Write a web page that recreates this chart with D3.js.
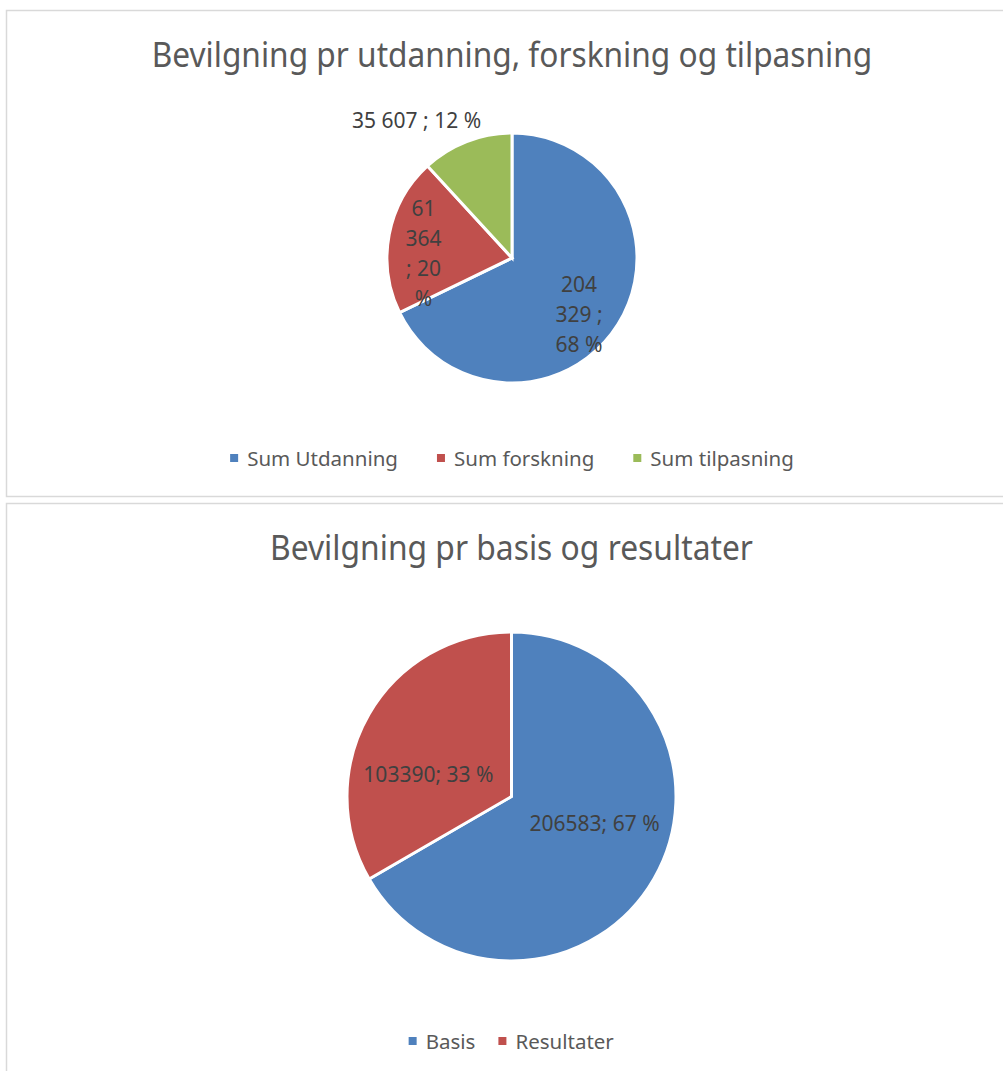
<!DOCTYPE html>
<html><head><meta charset="utf-8">
<script src="https://cdn.jsdelivr.net/npm/d3@7"></script>
<style>body{margin:0;background:#fff}svg{display:block}text{font-family:"Noto Sans",sans-serif}</style>
</head><body><svg id="c" width="1003" height="1071"></svg>
<script>
// ---- data ----
const chart1Title = "Bevilgning pr utdanning, forskning og tilpasning";
const chart1Categories = ["Sum Utdanning", "Sum forskning", "Sum tilpasning"];
const chart1Values = [204329, 61364, 35607];
const chart1Labels = [["204", "329 ;", "68 %"], ["61", "364", "; 20", "%"], ["35 607 ; 12 %"]];
const chart2Title = "Bevilgning pr basis og resultater";
const chart2Categories = ["Basis", "Resultater"];
const chart2Values = [206583, 103390];
const chart2Labels = [["206583; 67 %"], ["103390; 33 %"]];
const palette = ["#4F81BD", "#C0504D", "#9BBB59"];

const svg = d3.select("#c");
svg.append("rect").attr("width", 1003).attr("height", 1071).attr("fill", "#fff");

function condense(sel, k) {
  sel.each(function () {
    const w = this.getComputedTextLength();
    d3.select(this).attr("textLength", w * k).attr("lengthAdjust", "spacingAndGlyphs");
  });
}

function drawChart(o) {
  const g = svg.append("g");
  g.append("rect").attr("x", o.box[0]).attr("y", o.box[1]).attr("width", o.box[2]).attr("height", o.box[3])
    .attr("fill", "none").attr("stroke", "#d9d9d9").attr("stroke-width", 1.5);
  g.append("text").attr("x", o.cx).attr("y", o.titleY).attr("text-anchor", "middle")
    .attr("font-size", 34).attr("fill", "#595959").text(o.title).call(condense, o.titleK);

  const color = d3.scaleOrdinal().domain(o.cats).range(palette);
  const pie = d3.pie().sort(null).value(d => d.v);
  const data = pie(o.cats.map((c, i) => ({ c, v: o.vals[i], lab: o.labels[i] })));
  const arc = d3.arc().innerRadius(0).outerRadius(o.r);
  const pg = g.append("g").attr("transform", `translate(${o.cx},${o.cy})`);
  pg.selectAll("path").data(data).join("path").attr("d", arc)
    .attr("fill", d => color(d.data.c)).attr("stroke", "#fff").attr("stroke-width", 3).attr("stroke-linejoin", "miter");

  const lh = 30;
  data.forEach((d, i) => {
    const lines = d.data.lab;
    let x, y, anchor = "middle";
    if (o.outside && o.outside[i]) {
      const a = d3.arc().innerRadius(o.r * 1.1).outerRadius(o.r * 1.1).centroid(d);
      x = a[0] + 19; y = a[1] - 9; anchor = "end";
    } else {
      const a = d3.arc().innerRadius(o.r * o.lf).outerRadius(o.r * o.lf).centroid(d);
      x = a[0] + o.ldx; y = a[1] * o.lyk + o.ldy;
    }
    const t = pg.append("text").attr("text-anchor", anchor).attr("font-size", 21).attr("fill", "#404040");
    const y0 = y - (lines.length - 1) * lh / 2 + 7;
    lines.forEach((l, j) => t.append("tspan").attr("x", x).attr("y", y0 + j * lh).text(l));
  });

  // legend
  const lg = g.append("g");
  let xs = 0;
  const items = lg.selectAll("g").data(o.cats).join("g");
  items.append("rect").attr("width", 8).attr("height", 8).attr("y", -12).attr("fill", d => color(d));
  items.append("text").attr("x", 17).attr("font-size", 20.5).attr("fill", "#595959").text(d => d);
  items.each(function () {
    d3.select(this).attr("transform", `translate(${xs},0)`);
    xs += this.getBBox().width + o.legGap;
  });
  const totalW = xs - o.legGap;
  lg.attr("transform", `translate(${o.cx - totalW / 2},${o.legY})`);
}

drawChart({
  box: [6.5, 10.5, 1010, 486], title: chart1Title, titleY: 67, titleK: 0.931,
  cats: chart1Categories, vals: chart1Values, labels: chart1Labels,
  cx: 512, cy: 258, r: 125, lf: 0.68, ldx: -5, ldy: 12, lyk: 1, outside: [false, false, true],
  legY: 466, legGap: 39
});
drawChart({
  box: [6.5, 503.5, 1010, 600], title: chart2Title, titleY: 560, titleK: 0.935,
  cats: chart2Categories, vals: chart2Values, labels: chart2Labels,
  cx: 511.5, cy: 796.5, r: 164.5, lf: 0.583, ldx: 0, ldy: 3, lyk: 0.51,
  legY: 1049, legGap: 23
});
</script></body></html>
